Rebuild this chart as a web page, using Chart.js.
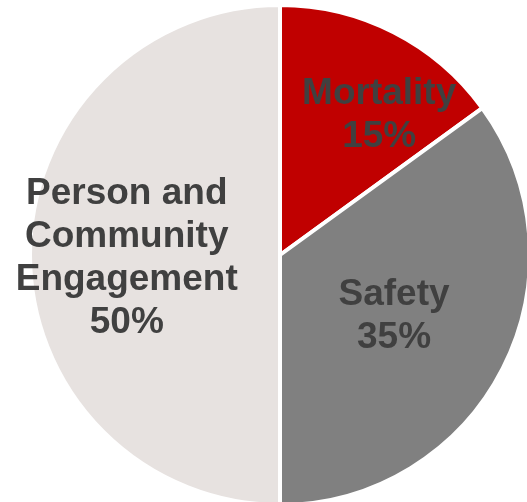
<!DOCTYPE html>
<html lang="en">
<head>
    <meta charset="UTF-8">
    <title>Pie</title>
    <script src="https://cdn.jsdelivr.net/npm/chart.js@4/dist/chart.umd.min.js"></script>
    <style>
        html, body { margin: 0; padding: 0; background: #fff; overflow: hidden; }
        /* box is wider than the window so the pie sits where it does in the original */
        #wrap { position: absolute; left: 0; top: 0; width: 560px; height: 510px; }
    </style>
</head>
<body>
    <div id="wrap"><canvas id="pieChart"></canvas></div>

    <script>
        // data
        const categories = ['Mortality', 'Safety', 'Person and Community Engagement'];
        const labelLines = [['Mortality'], ['Safety'], ['Person and', 'Community', 'Engagement']];
        const shares = [15, 35, 50];
        const sliceColors = ['#C00000', '#808080', '#E7E2E0'];

        // where each label sits: fraction of radius, extra angle (deg)
        const labelRadius = [0.695, 0.512, 0.613];
        const labelTurn = [7.8, 0, 0];

        const textPlugin = {
            id: 'sliceText',
            afterDatasetsDraw(chart) {
                const ctx = chart.ctx;
                const meta = chart.getDatasetMeta(0);
                const size = 37, pitch = 43, cap = 0.716 * size;
                ctx.save();
                ctx.font = 'bold ' + size + 'px "Liberation Sans", Arial, sans-serif';
                ctx.fillStyle = '#404040';
                ctx.textAlign = 'center';
                ctx.textBaseline = 'alphabetic';
                meta.data.forEach((arc, i) => {
                    const p = arc.getProps(['x', 'y', 'startAngle', 'endAngle', 'outerRadius'], true);
                    const mid = (p.startAngle + p.endAngle) / 2 + labelTurn[i] * Math.PI / 180;
                    const r = p.outerRadius * labelRadius[i];
                    const cx = p.x + Math.cos(mid) * r;
                    const cy = p.y + Math.sin(mid) * r;
                    const lines = labelLines[i].concat([shares[i] + '%']);
                    const first = cy + cap / 2 - (lines.length - 1) * pitch / 2;
                    lines.forEach((t, k) => ctx.fillText(t, cx, first + k * pitch));
                });
                ctx.restore();
            }
        };

        new Chart(document.getElementById('pieChart'), {
            type: 'pie',
            data: {
                labels: categories,
                datasets: [{
                    data: shares,
                    backgroundColor: sliceColors,
                    borderColor: '#FFFFFF',
                    borderWidth: 4,
                    radius: 250
                }]
            },
            options: {
                responsive: true,
                maintainAspectRatio: false,
                animation: false,
                plugins: {
                    legend: { display: false },
                    tooltip: { enabled: false }
                }
            },
            plugins: [textPlugin]
        });
    </script>
</body>
</html>
